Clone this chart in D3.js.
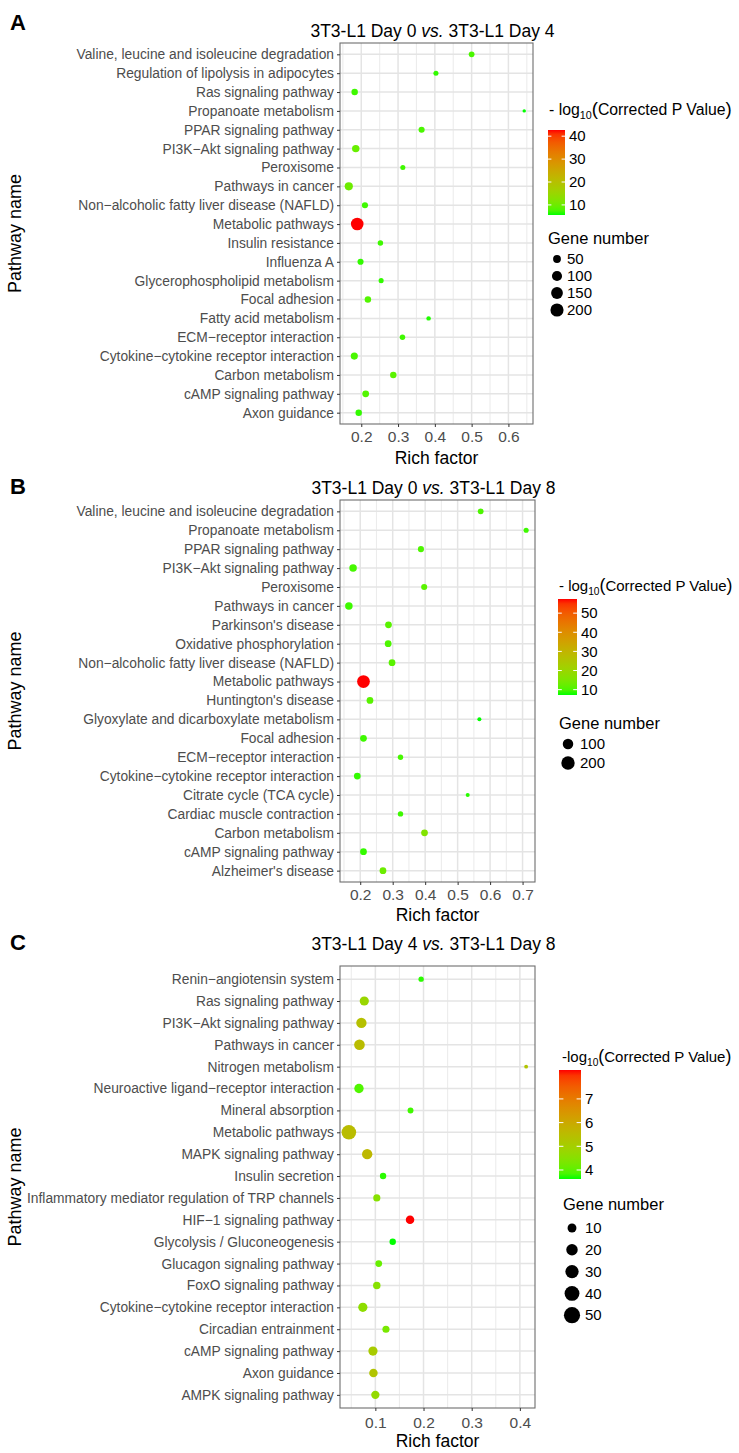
<!DOCTYPE html>
<html><head><meta charset="utf-8">
<script src="https://cdn.jsdelivr.net/npm/d3@7"></script>
<style>
body{margin:0;background:#fff}
svg{display:block}
text{font-family:"Liberation Sans",Arial,sans-serif}
</style>
</head><body>
<svg id="chart" width="739" height="1453"></svg>
<script>
// ---------------- Panel A data ----------------
const pathwaysA = ["Valine, leucine and isoleucine degradation","Regulation of lipolysis in adipocytes","Ras signaling pathway","Propanoate metabolism","PPAR signaling pathway","PI3K\u2212Akt signaling pathway","Peroxisome","Pathways in cancer","Non\u2212alcoholic fatty liver disease (NAFLD)","Metabolic pathways","Insulin resistance","Influenza A","Glycerophospholipid metabolism","Focal adhesion","Fatty acid metabolism","ECM\u2212receptor interaction","Cytokine\u2212cytokine receptor interaction","Carbon metabolism","cAMP signaling pathway","Axon guidance"];
const richA  = [0.500,0.403,0.182,0.643,0.364,0.185,0.313,0.166,0.210,0.189,0.252,0.198,0.254,0.218,0.383,0.312,0.181,0.287,0.212,0.193];
const genesA = [29,22,39,15,34,57,22,73,34,230,26,34,22,39,18,26,51,39,44,39];
const pvalA  = [7.5,6.5,7,5.6,7.5,9.5,7,10,7,42.7,7,6.5,6.5,8,6,7,7.5,8.5,8,6.5];
const xTicksA = [0.2,0.3,0.4,0.5,0.6];
const colorTicksA = [10,20,30,40];
const sizeBreaksA = [50,100,150,200];

// ---------------- Panel B data ----------------
const pathwaysB = ["Valine, leucine and isoleucine degradation","Propanoate metabolism","PPAR signaling pathway","PI3K\u2212Akt signaling pathway","Peroxisome","Pathways in cancer","Parkinson's disease","Oxidative phosphorylation","Non\u2212alcoholic fatty liver disease (NAFLD)","Metabolic pathways","Huntington's disease","Glyoxylate and dicarboxylate metabolism","Focal adhesion","ECM\u2212receptor interaction","Cytokine\u2212cytokine receptor interaction","Citrate cycle (TCA cycle)","Cardiac muscle contraction","Carbon metabolism","cAMP signaling pathway","Alzheimer's disease"];
const richB  = [0.571,0.711,0.387,0.178,0.397,0.165,0.287,0.286,0.298,0.210,0.230,0.567,0.210,0.324,0.191,0.531,0.324,0.398,0.210,0.270];
const genesB = [26,20,30,55,30,55,40,40,40,260,40,16,40,22,40,16,22,40,40,40];
const pvalB  = [10,9,10,9.5,11,9,11,10,11,57.4,11,7.2,9,9.5,8.5,8,9,16,8.5,13];
const xTicksB = [0.2,0.3,0.4,0.5,0.6,0.7];
const colorTicksB = [10,20,30,40,50];
const sizeBreaksB = [100,200];

// ---------------- Panel C data ----------------
const pathwaysC = ["Renin\u2212angiotensin system","Ras signaling pathway","PI3K\u2212Akt signaling pathway","Pathways in cancer","Nitrogen metabolism","Neuroactive ligand\u2212receptor interaction","Mineral absorption","Metabolic pathways","MAPK signaling pathway","Insulin secretion","Inflammatory mediator regulation of TRP channels","HIF\u22121 signaling pathway","Glycolysis / Gluconeogenesis","Glucagon signaling pathway","FoxO signaling pathway","Cytokine\u2212cytokine receptor interaction","Circadian entrainment","cAMP signaling pathway","Axon guidance","AMPK signaling pathway"];
const richC  = [0.195,0.077,0.071,0.067,0.413,0.066,0.173,0.045,0.083,0.116,0.103,0.172,0.136,0.107,0.103,0.074,0.122,0.095,0.096,0.100];
const genesC = [4,16,22,24,3,17,5,55,22,6,8,13,6,7,9,16,8,16,13,12];
const pvalC  = [3.7,4.8,5.4,5.5,5.3,3.9,3.8,5.5,5.6,3.7,4.5,8.22,3.62,4.1,4.5,4.6,4.3,5.1,5.3,4.7];
const xTicksC = [0.1,0.2,0.3,0.4];
const colorTicksC = [4,5,6,7];
const sizeBreaksC = [10,20,30,40,50];

const svg = d3.select("#chart");
const LABEL_GREY = "#4d4d4d";
const FONT = '"Liberation Sans",Arial,sans-serif';

function drawPanel(p) {
  const g = svg.append("g");
  const ext = d3.extent(p.rich), pad = (ext[1]-ext[0])*0.05;
  const x = d3.scaleLinear().domain([ext[0]-pad, ext[1]+pad]).range([p.left, p.right]);
  const y = d3.scalePoint().domain(p.cats).range([p.top, p.bottom]).padding(0.6);
  const color = d3.scaleLinear().domain(d3.extent(p.pval)).range(["#00ff00","#ff0000"]).interpolate(d3.interpolateLab);
  const t = d3.scaleLinear().domain(d3.extent(p.genes)).range([0,1]).clamp(true);
  const r = v => p.rRange[0] + (p.rRange[1]-p.rRange[0])*Math.sqrt(t(v));

  // panel letter
  g.append("text").attr("x", 10).attr("y", p.letterY).attr("font-size", 22).attr("font-weight","bold").text(p.letter);

  // title
  const tt = g.append("text").attr("x", (p.left+p.right)/2 - 4).attr("y", p.titleY).attr("text-anchor","middle").attr("font-size",17.5);
  tt.append("tspan").text(p.titleA + " ");
  tt.append("tspan").attr("font-style","italic").text("vs.");
  tt.append("tspan").text(" " + p.titleB);

  // grid
  const dom = x.domain();
  const step = p.ticks[1]-p.ticks[0];
  const minor = [];
  for (let v = p.ticks[0]-step/2; v <= dom[1]; v += step) if (v >= dom[0]) minor.push(v);
  g.append("g").selectAll("line").data(minor).join("line")
    .attr("x1", d=>x(d)).attr("x2", d=>x(d)).attr("y1", p.top).attr("y2", p.bottom)
    .attr("stroke","#ececec").attr("stroke-width",1.1);
  g.append("g").selectAll("line").data(p.ticks).join("line")
    .attr("x1", d=>x(d)).attr("x2", d=>x(d)).attr("y1", p.top).attr("y2", p.bottom)
    .attr("stroke","#e4e4e4").attr("stroke-width",1.5);
  g.append("g").selectAll("line").data(p.cats).join("line")
    .attr("x1", p.left).attr("x2", p.right).attr("y1", d=>y(d)).attr("y2", d=>y(d))
    .attr("stroke","#e4e4e4").attr("stroke-width",1.5);

  // points
  g.append("g").selectAll("circle").data(p.cats.map((c,i)=>({c, rich:p.rich[i], genes:p.genes[i], pv:p.pval[i]})))
    .join("circle")
    .attr("cx", d=>x(d.rich)).attr("cy", d=>y(d.c)).attr("r", d=>r(d.genes))
    .attr("fill", d=>color(d.pv));

  // border
  g.append("rect").attr("x", p.left).attr("y", p.top).attr("width", p.right-p.left).attr("height", p.bottom-p.top)
    .attr("fill","none").attr("stroke","#6e6e6e").attr("stroke-width",1.1);

  // y axis
  const ya = g.append("g").attr("transform", `translate(${p.left},0)`)
    .call(d3.axisLeft(y).tickSize(3).tickPadding(3));
  ya.select(".domain").remove();
  ya.selectAll(".tick line").attr("stroke","#333");
  ya.selectAll(".tick text").attr("fill", LABEL_GREY).attr("font-size", 13.8).attr("font-family", FONT);

  // x axis
  const xa = g.append("g").attr("transform", `translate(0,${p.bottom})`)
    .call(d3.axisBottom(x).tickValues(p.ticks).tickFormat(d3.format(".1f")).tickSize(3).tickPadding(p.xTickPad));
  xa.select(".domain").remove();
  xa.selectAll(".tick line").attr("stroke","#333");
  xa.selectAll(".tick text").attr("fill", LABEL_GREY).attr("font-size", 15.5).attr("font-family", FONT);

  // axis titles
  g.append("text").attr("x",(p.left+p.right)/2).attr("y", p.bottom + p.xTitleOff).attr("text-anchor","middle").attr("font-size",17.5).text("Rich factor");
  g.append("text").attr("transform", `translate(21,${(p.top+p.bottom)/2}) rotate(-90)`).attr("text-anchor","middle").attr("font-size",18).text("Pathway name");

  // colour legend
  const L = p.leg;
  const fs = L.titleSize;
  const lt = g.append("text").attr("x", L.titleX).attr("y", L.titleY).attr("font-size", fs);
  lt.append("tspan").text(p.logPrefix);
  lt.append("tspan").attr("font-size",fs*0.68).attr("dy",4).text("10");
  lt.append("tspan").attr("dy",-4).attr("font-size",fs*1.18).text("(");
  lt.append("tspan").text("Corrected P Value");
  lt.append("tspan").attr("font-size",fs*1.18).text(")");

  const cd = color.domain();
  const cy = d3.scaleLinear().domain(cd).range([L.barBottom, L.barTop]);
  const gid = "grad" + p.letter;
  const grad = svg.append("defs").append("linearGradient").attr("id", gid).attr("x1",0).attr("y1",1).attr("x2",0).attr("y2",0);
  d3.range(0, 1.0001, 0.05).forEach(f => grad.append("stop").attr("offset", f).attr("stop-color", color(cd[0] + f*(cd[1]-cd[0]))));
  g.append("rect").attr("x", L.barX).attr("y", L.barTop).attr("width", L.barW).attr("height", L.barBottom-L.barTop).attr("fill", `url(#${gid})`);
  const tk = g.append("g");
  tk.selectAll("line.l").data(p.colorTicks).join("line").attr("class","l")
    .attr("x1", L.barX).attr("x2", L.barX + L.barW*0.2).attr("y1", d=>cy(d)).attr("y2", d=>cy(d)).attr("stroke","#fff").attr("stroke-width",1);
  tk.selectAll("line.r").data(p.colorTicks).join("line").attr("class","r")
    .attr("x1", L.barX + L.barW*0.8).attr("x2", L.barX + L.barW).attr("y1", d=>cy(d)).attr("y2", d=>cy(d)).attr("stroke","#fff").attr("stroke-width",1);
  tk.selectAll("text").data(p.colorTicks).join("text")
    .attr("x", L.barX + L.barW + 4).attr("y", d=>cy(d)).attr("dy","0.35em").attr("font-size",15).text(d=>d);

  // size legend
  g.append("text").attr("x", L.sizeTitleX).attr("y", L.sizeTitleY).attr("font-size",16.5).text("Gene number");
  const sg = g.append("g");
  sg.selectAll("circle").data(p.sizeBreaks).join("circle")
    .attr("cx", L.dotX).attr("cy", (d,i)=>L.dotY0 + i*L.dotStep).attr("r", d=>r(d)*L.dotScale).attr("fill","#000");
  sg.selectAll("text").data(p.sizeBreaks).join("text")
    .attr("x", L.dotLabelX).attr("y", (d,i)=>L.dotY0 + i*L.dotStep).attr("dy","0.35em").attr("font-size",15).text(d=>d);
}

drawPanel({
  letter:"A", letterY:30, titleA:"3T3-L1 Day 0", titleB:"3T3-L1 Day 4", titleY:37,
  cats:pathwaysA, rich:richA, genes:genesA, pval:pvalA, ticks:xTicksA, colorTicks:colorTicksA, sizeBreaks:sizeBreaksA,
  left:340, right:533, top:43, bottom:424, rRange:[1.7,6.3], xTickPad:4, xTitleOff:40, logPrefix:"- log",
  leg:{titleX:549, titleY:115, titleSize:15.8, barX:548, barW:17, barTop:130, barBottom:215, sizeTitleX:548, sizeTitleY:244,
       dotX:557, dotY0:259, dotStep:17, dotLabelX:567, dotScale:1.1}
});
drawPanel({
  letter:"B", letterY:494, titleA:"3T3-L1 Day 0", titleB:"3T3-L1 Day 8", titleY:494,
  cats:pathwaysB, rich:richB, genes:genesB, pval:pvalB, ticks:xTicksB, colorTicks:colorTicksB, sizeBreaks:sizeBreaksB,
  left:340, right:535, top:500, bottom:882, rRange:[2.0,6.4], xTickPad:4, xTitleOff:39, logPrefix:"- log",
  leg:{titleX:559, titleY:591, titleSize:15, barX:558, barW:19, barTop:599, barBottom:695, sizeTitleX:559, sizeTitleY:729,
       dotX:568, dotY0:744, dotStep:19, dotLabelX:580, dotScale:1.15}
});
drawPanel({
  letter:"C", letterY:950, titleA:"3T3-L1 Day 4", titleB:"3T3-L1 Day 8", titleY:950,
  cats:pathwaysC, rich:richC, genes:genesC, pval:pvalC, ticks:xTicksC, colorTicks:colorTicksC, sizeBreaks:sizeBreaksC,
  left:340, right:535, top:966, bottom:1408, rRange:[1.9,7.3], xTickPad:6, xTitleOff:39, logPrefix:"-log",
  leg:{titleX:562, titleY:1062, titleSize:15, barX:559, barW:22, barTop:1070, barBottom:1179, sizeTitleX:563, sizeTitleY:1210,
       dotX:572, dotY0:1228, dotStep:21.8, dotLabelX:585, dotScale:1.15}
});
</script>
</body></html>
